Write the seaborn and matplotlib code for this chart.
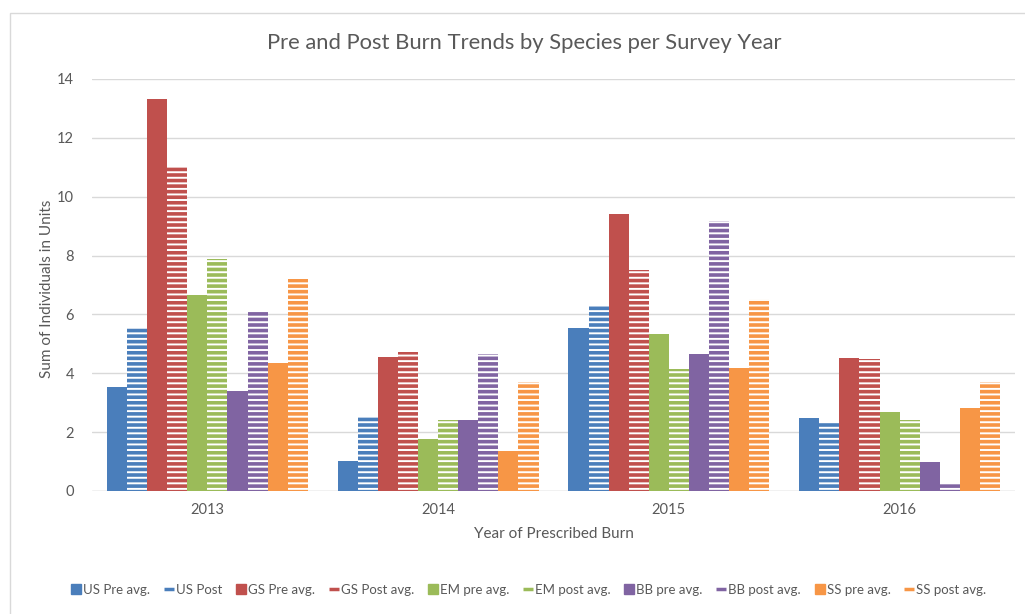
import matplotlib
matplotlib.use("Agg")
import matplotlib.pyplot as plt
from matplotlib.lines import Line2D
from matplotlib.patches import Rectangle
import seaborn as sns
import pandas as pd

# Survey years on the x axis
years = ["2013", "2014", "2015", "2016"]

# Series names (pre-burn averages and post-burn values per species)
series = ["US Pre avg.", "US Post", "GS Pre avg.", "GS Post avg.",
          "EM pre avg.", "EM post avg.", "BB pre avg.", "BB post avg.",
          "SS pre avg.", "SS post avg."]

# Sum of individuals per series, one value per survey year
us_pre = [3.52, 1.02, 5.53, 2.47]
us_post = [5.57, 2.53, 6.30, 2.30]
gs_pre = [13.33, 4.55, 9.40, 4.52]
gs_post = [11.06, 4.73, 7.52, 4.49]
em_pre = [6.67, 1.78, 5.34, 2.69]
em_post = [7.87, 2.42, 4.14, 2.41]
bb_pre = [3.41, 2.42, 4.65, 1.00]
bb_post = [6.11, 4.67, 9.17, 0.23]
ss_pre = [4.35, 1.36, 4.17, 2.82]
ss_post = [7.21, 3.69, 6.53, 3.69]

values = [us_pre, us_post, gs_pre, gs_post, em_pre, em_post,
          bb_pre, bb_post, ss_pre, ss_post]

yticks = [0, 2, 4, 6, 8, 10, 12, 14]

blue, red, green, purple, orange = "#4A7EBB", "#C0504D", "#9BBB59", "#8064A2", "#F79646"
colors = [blue, blue, red, red, green, green, purple, purple, orange, orange]
post_flags = [False, True] * 5

df = pd.DataFrame(
    [(y, s, v) for s, vals in zip(series, values) for y, v in zip(years, vals)],
    columns=["Year", "Series", "Value"],
)

sns.set_theme(style="white")
plt.rcParams["font.family"] = ["Lato", "DejaVu Sans"]
plt.rcParams["hatch.linewidth"] = 2.6

text_color = "#595959"
grid_color = "#D9D9D9"

fig = plt.figure(figsize=(10.25, 6.14), dpi=100)
fig.patch.set_facecolor("white")
ax = fig.add_axes([92 / 1025, 1 - 491 / 614, 923 / 1025, 412 / 614])

sns.barplot(data=df, x="Year", y="Value", hue="Series", hue_order=series,
            order=years, palette=colors, saturation=1, width=0.87,
            errorbar=None, legend=False, ax=ax, zorder=3)

# Post-burn series are drawn with narrow horizontal stripes
for container, col, is_post in zip(ax.containers, colors, post_flags):
    for bar in container:
        if is_post:
            bar.set_facecolor("white")
            bar.set_edgecolor(col)
            bar.set_hatch("---")
            bar.set_linewidth(0)
        else:
            bar.set_edgecolor("none")
            bar.set_linewidth(0)

ax.set_ylim(0, 14)
ax.set_yticks(yticks)
ax.set_yticklabels([str(t) for t in yticks])
ax.grid(axis="y", color=grid_color, linewidth=1.0, zorder=0)
ax.set_axisbelow(True)
for side in ["top", "right", "left", "bottom"]:
    ax.spines[side].set_visible(False)
ax.axhline(0, color=grid_color, linewidth=1.0, zorder=1)
ax.tick_params(axis="both", length=0, labelsize=10.5, labelcolor=text_color)
ax.tick_params(axis="y", pad=13)
ax.tick_params(axis="x", pad=9)

ax.set_xlabel("Year of Prescribed Burn", fontsize=11, color=text_color)
ax.set_ylabel("Sum of Individuals in Units", fontsize=11, color=text_color)
ax.xaxis.set_label_coords(0.5, -0.088)
ax.yaxis.set_label_coords(-0.041, 0.49)

fig.text(524 / 1025, 1 - 43 / 614, "Pre and Post Burn Trends by Species per Survey Year",
         ha="center", va="center", fontsize=15.8, color=text_color)

handles = []
for name, col, is_post in zip(series, colors, post_flags):
    if is_post:
        handles.append(Line2D([], [], color=col, marker="_", linestyle="none",
                              markersize=7, markeredgewidth=2.5, label=name))
    else:
        handles.append(Line2D([], [], color=col, marker="s", linestyle="none",
                              markersize=6.5, label=name))
fig.legend(handles=handles, loc="center", bbox_to_anchor=(529 / 1025, 1 - 590 / 614),
           ncol=10, frameon=False, fontsize=9.5, handlelength=0.7,
           handletextpad=0.2, columnspacing=1.05, labelcolor=text_color)

# Light chart border
fig.patches.append(Rectangle((10 / 1025, -0.01), 1.1, 1 - 13 / 614 + 0.01,
                             transform=fig.transFigure, fill=False,
                             edgecolor="#D9D9D9", linewidth=1.0))

fig.savefig("out.png", dpi=100)
